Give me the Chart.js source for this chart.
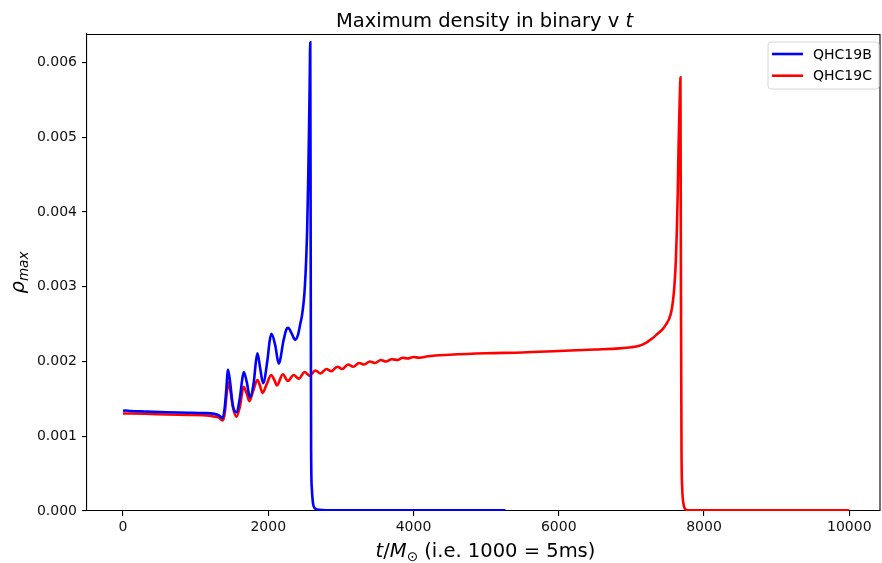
<!DOCTYPE html>
<html><head><meta charset="utf-8">
<script src="https://cdn.jsdelivr.net/npm/chart.js@4.4.0/dist/chart.umd.min.js"></script>
<style>html,body{margin:0;padding:0;background:#fff}#wrap{width:882px;height:563px}</style>
</head><body><div id="wrap"><canvas id="c" width="882" height="563"></canvas></div>
<script>
const seriesNames = ['QHC19B', 'QHC19C'];
const seriesColors = ['#0000ff', '#ff0000'];

// QHC19B
const tB = [0, 30, 100, 300, 600, 900, 1100, 1250, 1320, 1370, 1400, 1420, 1446, 1475, 1510, 1560, 1610, 1640, 1663, 1705, 1746, 1800, 1830, 1851, 1890, 1929, 1990, 2020, 2044, 2095, 2144, 2210, 2250, 2273, 2320, 2370, 2410, 2440, 2465, 2490, 2505, 2520, 2535, 2550, 2561, 2570, 2578, 2584, 2590, 2600, 2620, 2650, 2700, 2800, 3500, 4500, 5265];
const rhoB = [0.00134, 0.001345, 0.001338, 0.00133, 0.00132, 0.001315, 0.00131, 0.0013, 0.00128, 0.00124, 0.00138, 0.0016, 0.00189, 0.00172, 0.00142, 0.00132, 0.00152, 0.00175, 0.00186, 0.00172, 0.00152, 0.00172, 0.002, 0.00211, 0.0019, 0.00171, 0.00203, 0.00228, 0.00237, 0.00222, 0.00197, 0.00228, 0.00243, 0.00245, 0.00238, 0.00229, 0.00236, 0.0025, 0.00262, 0.00282, 0.00302, 0.00332, 0.00375, 0.00445, 0.0051, 0.0057, 0.00627, 0.0035, 0.0008, 0.0003, 0.00008, 0.00003, 0.000016, 0.000011, 0.00001, 0.00001, 0.00001];

// QHC19C
const tC = [0, 300, 600, 900, 1100, 1250, 1320, 1370, 1400, 1420, 1450, 1480, 1515, 1560, 1610, 1660, 1700, 1740, 1790, 1850, 1885, 1920, 1980, 2040, 2080, 2120, 2200, 2270, 2350, 2420, 2500, 2570, 2650, 2720, 2800, 2870, 2950, 3020, 3100, 3170, 3250, 3320, 3400, 3470, 3550, 3620, 3700, 3780, 3850, 3920, 4000, 4080, 4200, 4500, 5000, 5500, 6000, 6500, 6832, 7000, 7107, 7200, 7290, 7360, 7428, 7480, 7519, 7550, 7575, 7595, 7611, 7625, 7638, 7650, 7660, 7668, 7675, 7682, 7690, 7700, 7720, 7750, 7800, 8500, 10000];
const rhoC = [0.001305, 0.0013, 0.00129, 0.001285, 0.00128, 0.001265, 0.00125, 0.00121, 0.0013, 0.0015, 0.00172, 0.0016, 0.00138, 0.00126, 0.0014, 0.00166, 0.00158, 0.00147, 0.0016, 0.00175, 0.00168, 0.00158, 0.0017, 0.00182, 0.00176, 0.00168, 0.00183, 0.00174, 0.00182, 0.00177, 0.00186, 0.00181, 0.00188, 0.00184, 0.0019, 0.00187, 0.00193, 0.0019, 0.00196, 0.00193, 0.00198, 0.00196, 0.002, 0.00198, 0.00202, 0.002, 0.00203, 0.00202, 0.00205, 0.00204, 0.00206, 0.00205, 0.00207, 0.00209, 0.00211, 0.00212, 0.00214, 0.00216, 0.002175, 0.00219, 0.00221, 0.00225, 0.00231, 0.00237, 0.00243, 0.0025, 0.00257, 0.00267, 0.00283, 0.00305, 0.00333, 0.00372, 0.00425, 0.0049, 0.0053, 0.0056, 0.0058, 0.003, 0.0008, 0.0003, 0.00008, 0.00002, 0.00001, 0.00001, 0.00001];

const xTickValues = [0, 2000, 4000, 6000, 8000, 10000];
const xTickLabels = ['0', '2000', '4000', '6000', '8000', '10000'];
const yTickValues = [0, 0.001, 0.002, 0.003, 0.004, 0.005, 0.006];
const yTickLabels = ['0.000', '0.001', '0.002', '0.003', '0.004', '0.005', '0.006'];

const FONT = "'DejaVu Sans', sans-serif";

function drawRuns(ctx, runs, x, y, align) {
  let total = 0;
  runs.forEach(r => { ctx.font = r[1] + ' ' + r[2] + 'px ' + FONT; r.w = ctx.measureText(r[0]).width; total += r.w; });
  let cx = align === 'center' ? x - total / 2 : x;
  runs.forEach(r => {
    ctx.font = r[1] + ' ' + r[2] + 'px ' + FONT;
    ctx.fillText(r[0], cx, y + (r[3] || 0));
    cx += r.w;
  });
}

const decor = {
  id: 'decor',
  afterDraw(chart) {
    const ctx = chart.ctx, a = chart.chartArea;
    ctx.save();
    ctx.strokeStyle = '#000'; ctx.lineWidth = 1.1;
    ctx.beginPath();
    ctx.moveTo(a.left, a.top + 0.5); ctx.lineTo(a.right, a.top + 0.5);
    ctx.lineTo(a.right, a.bottom);
    ctx.stroke();
    ctx.fillStyle = '#000';
    ctx.textBaseline = 'alphabetic';
    const cx = (a.left + a.right) / 2;
    drawRuns(ctx, [['Maximum density in binary v ', 'normal', 19.5, 0], ['t', 'italic', 19.5, 0]], cx + 1, 27, 'center');
    drawRuns(ctx, [['t', 'italic', 19.5, 0], ['/', 'normal', 19.5, 0], ['M', 'italic', 19.5, 0], ['\u2299', 'normal', 13.6, 4], [' (i.e. 1000 = 5ms)', 'normal', 19.5, 0]], cx + 2, 557, 'center');
    ctx.save();
    ctx.translate(23.5, (a.top + a.bottom) / 2);
    ctx.rotate(-Math.PI / 2);
    drawRuns(ctx, [['\u03c1', 'italic', 19.5, 0], ['max', 'italic', 13.6, 4]], 0, 0, 'center');
    ctx.restore();
    const lx = 768, ly = 42, lw = 111, lh = 47, r = 3;
    ctx.beginPath();
    ctx.moveTo(lx + r, ly); ctx.lineTo(lx + lw - r, ly); ctx.quadraticCurveTo(lx + lw, ly, lx + lw, ly + r);
    ctx.lineTo(lx + lw, ly + lh - r); ctx.quadraticCurveTo(lx + lw, ly + lh, lx + lw - r, ly + lh);
    ctx.lineTo(lx + r, ly + lh); ctx.quadraticCurveTo(lx, ly + lh, lx, ly + lh - r);
    ctx.lineTo(lx, ly + r); ctx.quadraticCurveTo(lx, ly, lx + r, ly);
    ctx.closePath();
    ctx.fillStyle = 'rgba(255,255,255,0.8)'; ctx.fill();
    ctx.strokeStyle = '#d6d6d6'; ctx.lineWidth = 1; ctx.stroke();
    chart.data.datasets.forEach((ds, i) => {
      const yy = 54 + i * 21.7;
      ctx.strokeStyle = ds.borderColor; ctx.lineWidth = 2.6;
      ctx.beginPath(); ctx.moveTo(772, yy); ctx.lineTo(803, yy); ctx.stroke();
      ctx.fillStyle = '#000'; ctx.font = '14px ' + FONT; ctx.textBaseline = 'middle';
      ctx.fillText(ds.label, 813, yy + 1);
    });
    ctx.restore();
  }
};

const pts = (t, v) => t.map((x, i) => ({ x: x, y: v[i] }));

new Chart(document.getElementById('c'), {
  type: 'line',
  data: {
    datasets: [
      { label: seriesNames[0], data: pts(tB, rhoB), borderColor: seriesColors[0], backgroundColor: seriesColors[0] },
      { label: seriesNames[1], data: pts(tC, rhoC), borderColor: seriesColors[1], backgroundColor: seriesColors[1] }
    ]
  },
  options: {
    responsive: false, animation: false, devicePixelRatio: 1,
    layout: { padding: { top: 34, right: 2, left: 0, bottom: 0 } },
    plugins: { legend: { display: false }, title: { display: false }, tooltip: { enabled: false } },
    elements: { point: { radius: 0 }, line: { borderWidth: 2.6, cubicInterpolationMode: 'monotone', fill: false } },
    scales: {
      x: {
        type: 'linear', min: -496, max: 10423,
        afterBuildTicks: s => { s.ticks = xTickValues.map(v => ({ value: v })); },
        afterFit: s => { s.height = 52; },
        grid: { drawOnChartArea: false, drawTicks: true, tickLength: 5, color: '#000', lineWidth: 1.1 },
        border: { display: true, color: '#000', width: 1.1 },
        ticks: { callback: v => xTickLabels[xTickValues.indexOf(v)], color: '#111', font: { family: FONT, size: 14 }, padding: 3, maxRotation: 0, autoSkip: false }
      },
      y: {
        type: 'linear', min: 0, max: 0.00638,
        afterBuildTicks: s => { s.ticks = yTickValues.map(v => ({ value: v })); },
        afterFit: s => { s.width = 87; },
        grid: { drawOnChartArea: false, drawTicks: true, tickLength: 5, color: '#000', lineWidth: 1.1 },
        border: { display: true, color: '#000', width: 1.1 },
        ticks: { callback: v => yTickLabels[yTickValues.indexOf(v)], color: '#111', font: { family: FONT, size: 14 }, padding: 5, autoSkip: false }
      }
    }
  },
  plugins: [decor]
});
</script></body></html>
